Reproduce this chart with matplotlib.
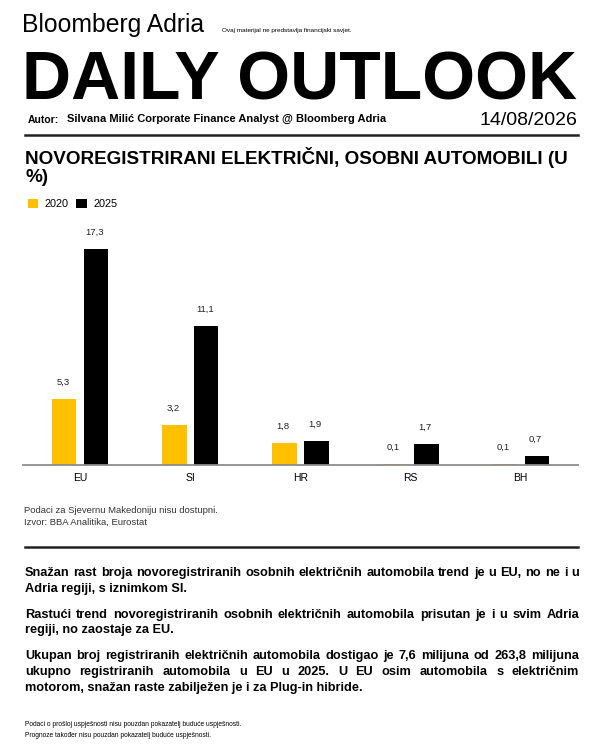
import numpy as np
import matplotlib
matplotlib.use('Agg')
import matplotlib.pyplot as plt

# podaci
zemlje = ['EU', 'SI', 'HR', 'RS', 'BH']
vrijednosti_2020 = [5.3, 3.2, 1.8, 0.1, 0.1]
vrijednosti_2025 = [17.3, 11.1, 1.9, 1.7, 0.7]
godine = ['2020', '2025']

naslov = ['NOVOREGISTRIRANI ELEKTRIČNI, OSOBNI AUTOMOBILI (U', '%)']
napomene = ['Podaci za Sjevernu Makedoniju nisu dostupni.', 'Izvor: BBA Analitika, Eurostat']
odlomci = [
    ['Snažan rast broja novoregistriranih osobnih električnih automobila trend je u EU, no ne i u',
     'Adria regiji, s iznimkom SI.'],
    ['Rastući trend novoregistriranih osobnih električnih automobila prisutan je i u svim Adria',
     'regiji, no zaostaje za EU.'],
    ['Ukupan broj registriranih električnih automobila dostigao je 7,6 milijuna od 263,8 milijuna',
     'ukupno registriranih automobila u EU u 2025. U EU osim automobila s električnim',
     'motorom, snažan raste zabilježen je i za Plug-in hibride.'],
]
podnozje = ['Podaci o prošloj uspješnosti nisu pouzdan pokazatelj buduće uspješnosti.',
            'Prognoze također nisu pouzdan pokazatelj buduće uspješnosti.']

ZUTA = '#FFC000'
FONT = 'Liberation Sans'
W, H = 600, 750

fig = plt.figure(figsize=(6, 7.5), dpi=100)
renderer = fig.canvas.get_renderer()


def fx(x):
    return x / W


def fy(y):
    return 1 - y / H


def txt(x, y, s, **kw):
    kw.setdefault('family', FONT)
    kw.setdefault('va', 'baseline')
    return fig.text(fx(x), fy(y), s, **kw)


def sirina(t):
    return t.get_window_extent(renderer=renderer).width


def fit(t, w):
    # skaliraj velicinu fonta da tekst bude zadane sirine
    t.set_fontsize(t.get_fontsize() * w / sirina(t))


def justify(x0, x1, y, line, **kw):
    words = line.split(' ')
    tt = [txt(x0, y, w, **kw) for w in words]
    ws = [sirina(t) for t in tt]
    gap = (x1 - x0 - sum(ws)) / (len(words) - 1)
    x = x0
    for t, w in zip(tt, ws):
        t.set_x(fx(x))
        x += w + gap


# zaglavlje
t = txt(22, 32, 'Bloomberg Adria', fontsize=16)
fit(t, 183)
txt(222, 32, 'Ovaj materijal ne predstavlja financijski savjet.', fontsize=4.6)
t = txt(22, 99, 'DAILY OUTLOOK', fontsize=50, fontweight='bold')
fit(t, 556)
txt(28, 123, 'Autor:', fontsize=7.5, fontweight='bold')
t = txt(67, 122, 'Silvana Milić Corporate Finance Analyst @ Bloomberg Adria', fontsize=8, fontweight='bold')
fit(t, 321)
txt(577, 125, '14/08/2026', fontsize=14, ha='right')
fig.add_artist(plt.Line2D([fx(25), fx(578)], [fy(135), fy(135)], color='#222222', lw=1.8))

# naslov grafa
t = txt(25, 164, naslov[0], fontsize=13, fontweight='bold')
fit(t, 543)
txt(25, 182, naslov[1], fontsize=t.get_fontsize(), fontweight='bold')

# graf
ax = fig.add_axes([fx(23), fy(465), fx(578) - fx(23), (465 - 225) / H])
x = np.arange(len(zemlje))
b1 = ax.bar(x - 0.145, vrijednosti_2020, 0.22, color=ZUTA, label=godine[0])
b2 = ax.bar(x + 0.145, vrijednosti_2025, 0.22, color='black', label=godine[1])
for bars, vals in [(b1, vrijednosti_2020), (b2, vrijednosti_2025)]:
    for r, v in zip(bars, vals):
        ax.annotate(f'{v:.1f}'.replace('.', ','), (r.get_x() + r.get_width() / 2, v),
                    xytext=(-1, 12), textcoords='offset points', ha='center', va='center',
                    fontsize=6.8, family=FONT, color='#222222')
ax.set_xlim(-0.52, 4.52)
ax.set_ylim(0, 19.2)
ax.set_xticks(x)
ax.set_xticklabels(zemlje, family=FONT, fontsize=7.5)
ax.tick_params(axis='x', length=0, pad=6)
ax.set_yticks([])
for s in ['top', 'right', 'left']:
    ax.spines[s].set_visible(False)
ax.spines['bottom'].set_color('#8c8c8c')
ax.spines['bottom'].set_linewidth(1.3)

fig.legend(handles=[b1, b2], loc='upper left', bbox_to_anchor=(fx(28), fy(199)), ncol=2,
           frameon=False, handlelength=0.95, handleheight=0.95, handletextpad=0.6,
           columnspacing=0.7, borderpad=0, borderaxespad=0,
           prop={'family': FONT, 'size': 7.8})

txt(24, 513, napomene[0], fontsize=6.8, color='#333333')
txt(24, 525, napomene[1], fontsize=6.8, color='#333333')

fig.add_artist(plt.Line2D([fx(25), fx(578)], [fy(547), fy(547)], color='#222222', lw=1.8))

# tekst
t = txt(25, 576, odlomci[0][0], fontsize=10, fontweight='bold')
fit(t, 550)
fs = t.get_fontsize()
t.remove()
y = 576
for odl in odlomci:
    for i, line in enumerate(odl):
        if i < len(odl) - 1:
            justify(25, 579, y, line, fontsize=fs, fontweight='bold')
        else:
            txt(25, y, line, fontsize=fs, fontweight='bold')
        y += 15.8
    y += 10

txt(25, 726, podnozje[0], fontsize=4.8)
txt(25, 737, podnozje[1], fontsize=4.8)

fig.savefig('out.png', dpi=100, facecolor='white')
